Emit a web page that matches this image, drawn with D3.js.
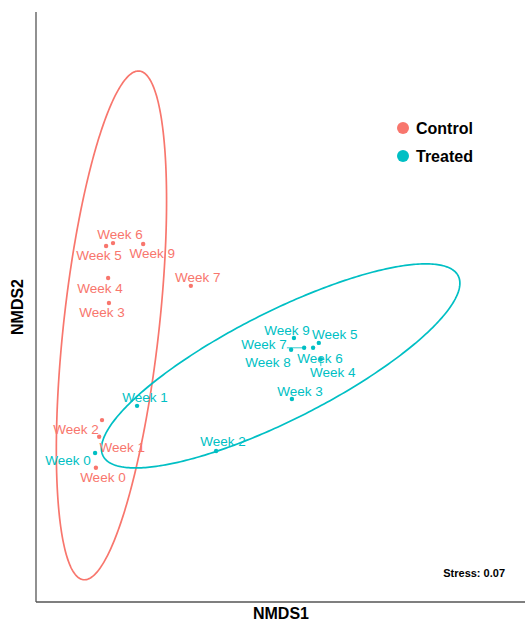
<!DOCTYPE html>
<html>
<head>
<meta charset="utf-8">
<script src="https://cdn.jsdelivr.net/npm/d3@7"></script>
<style>
  body { margin: 0; background: #fff; }
  text { font-family: "Liberation Sans", Arial, sans-serif; }
</style>
</head>
<body>
<svg id="nmds" width="525" height="622"></svg>
<script>
// NMDS scores
var groups = ["Control", "Treated"];
var colors = ["#F8766D", "#00BFC4"];

var controlWeeks = ["Week 0", "Week 1", "Week 2", "Week 3", "Week 4", "Week 5", "Week 6", "Week 7", "Week 9"];
var controlX = [-0.253, -0.245, -0.238, -0.221, -0.223, -0.228, -0.211, -0.020, -0.137];
var controlY = [-0.327, -0.264, -0.230, 0.008, 0.059, 0.124, 0.130, 0.043, 0.128];

var treatedWeeks = ["Week 0", "Week 1", "Week 2", "Week 3", "Week 4", "Week 5", "Week 6", "Week 7", "Week 8", "Week 9"];
var treatedX = [-0.255, -0.152, 0.042, 0.228, 0.299, 0.294, 0.280, 0.258, 0.226, 0.233];
var treatedY = [-0.297, -0.201, -0.293, -0.187, -0.106, -0.073, -0.083, -0.083, -0.087, -0.063];

var stressValue = 0.07;

// where the repelled labels ended up (pixel nudge from the point)
var labelNudge = {
  "Control|Week 0": [7, 9], "Control|Week 1": [23, 10], "Control|Week 2": [-26, 9],
  "Control|Week 3": [-7, 9], "Control|Week 4": [-8, 10], "Control|Week 5": [-7, 9],
  "Control|Week 6": [7, -9], "Control|Week 7": [7, -9], "Control|Week 9": [9, 9],
  "Treated|Week 0": [-27, 7], "Treated|Week 1": [8, -9], "Treated|Week 2": [7, -10],
  "Treated|Week 3": [8, -8], "Treated|Week 4": [12, 13], "Treated|Week 5": [16, -9],
  "Treated|Week 6": [7, 10], "Treated|Week 7": [-40, -4], "Treated|Week 8": [-23, 12],
  "Treated|Week 9": [-7, -8]
};

function makeRows(group, weeks, xs, ys) {
  return weeks.map(function(w, i) { return {group: group, week: w, x: xs[i], y: ys[i]}; });
}
var points = makeRows("Control", controlWeeks, controlX, controlY)
  .concat(makeRows("Treated", treatedWeeks, treatedX, treatedY));

var svg = d3.select("#nmds"),
    plotLeft = 36, plotRight = 525, plotTop = 12, plotBottom = 602;

var x = d3.scaleLinear().domain([-0.4, 0.8]).range([plotLeft, plotRight]);
var y = d3.scaleLinear().domain([-0.6, 0.6]).range([plotBottom, plotTop]);
var color = d3.scaleOrdinal().domain(groups).range(colors);

// stat_ellipse: multivariate t fit (MASS::cov.trob) + F-based radius
function covTrob(pts) {
  var nu = 5, p = 2, n = pts.length, maxit = 25, tol = 0.01;
  var loc = [d3.mean(pts, function(d) { return d[0]; }), d3.mean(pts, function(d) { return d[1]; })];
  var w = pts.map(function() { return 1; }), X;
  for (var it = 0; it < maxit; it++) {
    var w0 = w.slice();
    X = pts.map(function(d) { return [d[0] - loc[0], d[1] - loc[1]]; });
    var sw = d3.sum(w), a = 0, b = 0, c = 0;
    X.forEach(function(v, i) { a += w[i] * v[0] * v[0]; b += w[i] * v[0] * v[1]; c += w[i] * v[1] * v[1]; });
    a /= sw; b /= sw; c /= sw;
    var det = a * c - b * b;
    var Q = X.map(function(v) { return (c * v[0] * v[0] - 2 * b * v[0] * v[1] + a * v[1] * v[1]) / det; });
    w = Q.map(function(q) { return (nu + p) / (nu + q); });
    var ws = d3.sum(w);
    loc = [d3.sum(pts, function(d, i) { return w[i] * d[0]; }) / ws,
           d3.sum(pts, function(d, i) { return w[i] * d[1]; }) / ws];
    if (w.every(function(v, i) { return Math.abs(v - w0[i]) < tol; })) break;
  }
  var s11 = 0, s12 = 0, s22 = 0;
  X.forEach(function(v, i) { s11 += w[i] * v[0] * v[0]; s12 += w[i] * v[0] * v[1]; s22 += w[i] * v[1] * v[1]; });
  return {center: loc, cov: [s11 / n, s12 / n, s22 / n]};
}

function ellipsePath(rows) {
  var pts = rows.map(function(d) { return [d.x, d.y]; });
  var fit = covTrob(pts), n = pts.length;
  var df2 = n - 1;
  var fq = (df2 / 2) * (Math.pow(0.05, -2 / df2) - 1); // qf(0.95, 2, n-1)
  var radius = Math.sqrt(2 * fq);
  var r11 = Math.sqrt(fit.cov[0]), r12 = fit.cov[1] / r11, r22 = Math.sqrt(fit.cov[2] - r12 * r12);
  var out = d3.range(0, 361).map(function(k) {
    var t = k / 360 * 2 * Math.PI, ct = Math.cos(t), st = Math.sin(t);
    return [fit.center[0] + radius * ct * r11, fit.center[1] + radius * (ct * r12 + st * r22)];
  });
  return d3.line().x(function(d) { return x(d[0]); }).y(function(d) { return y(d[1]); })(out);
}

// axes: plain lines, no ticks
svg.append("line").attr("x1", plotLeft).attr("x2", plotLeft).attr("y1", plotTop).attr("y2", plotBottom)
  .attr("stroke", "#555").attr("stroke-width", 1.3);
svg.append("line").attr("x1", plotLeft).attr("x2", plotRight).attr("y1", plotBottom).attr("y2", plotBottom)
  .attr("stroke", "#555").attr("stroke-width", 1.3);

svg.selectAll(".ellipse")
  .data(groups)
  .enter().append("path")
  .attr("class", "ellipse")
  .attr("d", function(g) { return ellipsePath(points.filter(function(d) { return d.group === g; })); })
  .attr("fill", "none")
  .attr("stroke", function(g) { return color(g); })
  .attr("stroke-width", 1.7);

svg.selectAll(".pt")
  .data(points)
  .enter().append("circle")
  .attr("class", "pt")
  .attr("cx", function(d) { return x(d.x); })
  .attr("cy", function(d) { return y(d.y); })
  .attr("r", 2.2)
  .attr("fill", function(d) { return color(d.group); });

var labelG = svg.append("g");
points.forEach(function(d) {
  var nud = labelNudge[d.group + "|" + d.week] || [0, 0];
  var px = x(d.x), py = y(d.y), lx = px + nud[0], ly = py + nud[1];
  var t = labelG.append("text")
    .attr("x", lx).attr("y", ly)
    .attr("dy", "0.35em")
    .attr("text-anchor", "middle")
    .attr("font-size", "13.5px")
    .attr("fill", color(d.group))
    .text(d.week);
  var bb = t.node().getBBox();
  var hw = bb.width / 2, hh = 6;
  var cx = Math.max(lx - hw, Math.min(px, lx + hw)), cy = Math.max(ly - hh, Math.min(py, ly + hh));
  if (Math.hypot(cx - px, cy - py) > 6.5) {
    labelG.insert("line", "text")
      .attr("x1", px).attr("y1", py).attr("x2", cx).attr("y2", cy)
      .attr("stroke", color(d.group)).attr("stroke-width", 0.8);
  }
});

// legend
var legend = svg.selectAll(".legend")
  .data(groups)
  .enter().append("g")
  .attr("class", "legend")
  .attr("transform", function(d, i) { return "translate(403," + (128 + i * 28) + ")"; });
legend.append("circle").attr("r", 6).attr("fill", function(d) { return color(d); });
legend.append("text").attr("x", 13).attr("dy", "0.36em")
  .attr("font-size", "16px").attr("font-weight", "bold").attr("fill", "#000")
  .text(function(d) { return d; });

svg.append("text").attr("x", 505).attr("y", 573).attr("dy", "0.35em")
  .attr("text-anchor", "end").attr("font-size", "11px").attr("font-weight", "bold")
  .text("Stress: " + stressValue.toFixed(2));

svg.append("text").attr("x", 281).attr("y", 619)
  .attr("text-anchor", "middle").attr("font-size", "16px").attr("font-weight", "bold")
  .text("NMDS1");
svg.append("text").attr("transform", "translate(17," + ((plotTop + plotBottom) / 2) + ") rotate(-90)")
  .attr("dy", "0.35em").attr("text-anchor", "middle")
  .attr("font-size", "16px").attr("font-weight", "bold")
  .text("NMDS2");
</script>
</body>
</html>
